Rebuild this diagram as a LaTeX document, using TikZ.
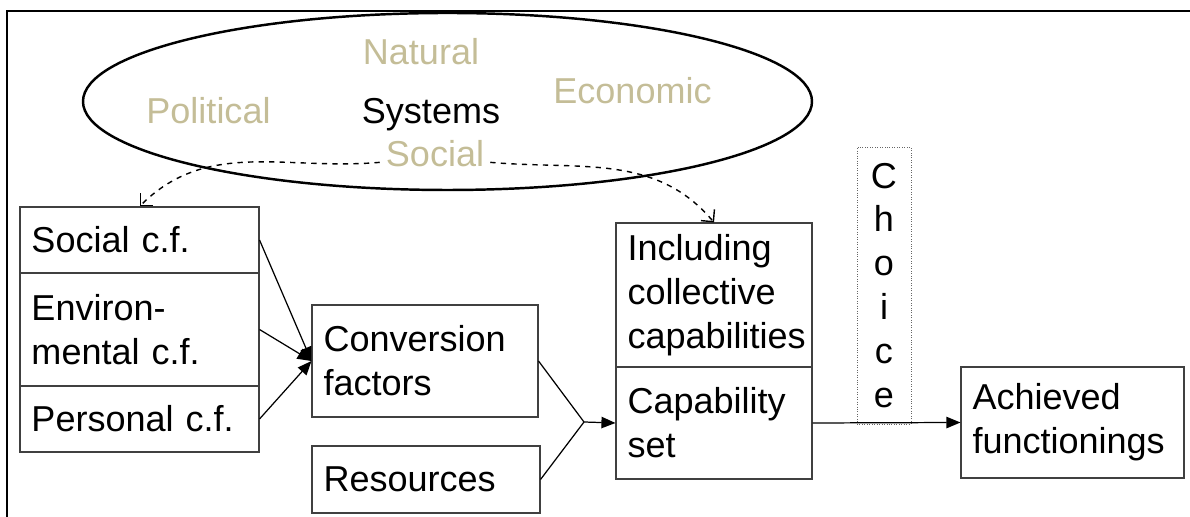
\documentclass[tikz,border=0pt]{standalone}
\usepackage{fontspec}
\setmainfont{Liberation Sans}
\usetikzlibrary{shapes.geometric, arrows.meta}
\definecolor{systemtan}{RGB}{196,189,151}

\begin{document}
\begin{tikzpicture}[factor/.style = {rectangle, draw=black!75, line width=0.6pt, align=left, inner xsep=0.23cm, inner ysep=0pt},
                    system/.style = {anchor=base, text=systemtan},
                    flow/.style = {-{Triangle[length=8pt, width=6.5pt]}, line width=0.7pt},
                    influence/.style = {-{Straight Barb[length=5pt, width=10pt]}, dashed, thick},
                    font=\fontsize{20.5}{25}\selectfont]
  \useasboundingbox (0, 0) rectangle (23.8, 10.34);

  % Frame.
  \draw [line width=1.2pt] (0.14, 0) -- (0.14, 10.12) -- (23.8, 10.12);

  % Systems.
  \node at (8.95, 8.31) [ellipse, draw, line width=1.4pt, minimum width=14.58cm, minimum height=3.54cm, name=SystemsOval] {};
  \node at (8.42, 9.04) [system, name=Natural] {Natural};
  \node at (4.17, 7.86) [system, name=Political] {Political};
  \node at (8.62, 7.86) [anchor=base, name=Systems] {Systems};
  \node at (12.65, 8.26) [system, name=Economic] {Economic};
  \node at (8.70, 7.00) [system, name=SocialSystem] {Social};

  % Conversion factors.
  \node at (2.79, 5.54) [factor, text width=4.32cm, minimum height=1.32cm, name=SocialCF] {Social c.f.};
  \node at (2.79, 3.75) [factor, text width=4.32cm, minimum height=2.26cm, name=EnvironmentalCF] {Environ-\\mental c.f.};
  \node at (2.79, 1.96) [factor, text width=4.32cm, minimum height=1.32cm, name=PersonalCF] {Personal c.f.};
  \node at (8.50, 3.12) [factor, text width=4.06cm, minimum height=2.24cm, name=Conversion] {Conversion\\factors};
  \node at (8.52, 0.75) [factor, text width=4.10cm, minimum height=1.34cm, name=Resources] {Resources};

  % Capabilities and functionings.
  \node at (14.28, 4.44) [factor, text width=3.46cm, minimum height=2.88cm, name=Including] {Including\\collective\\capabilities};
  \node at (14.28, 1.88) [factor, text width=3.46cm, minimum height=2.24cm, name=Capability] {Capability\\set};
  \node at (21.45, 1.89) [factor, text width=4.00cm, minimum height=2.22cm, name=Achieved] {Achieved\\functionings};
  \node at (17.68, 4.63) [rectangle, draw=black!60, densely dotted, align=center, inner sep=0pt, minimum width=1.08cm, minimum height=5.54cm, name=Choice] {C\\h\\o\\i\\c\\e};

  % Location where conversion factors meet resources.
  \coordinate (merge) at (11.68, 1.90);

  % Influence of the systems.
  \draw [influence] (SocialSystem.mid west)
             to [out=185, in=45]
             (SocialCF.north);
  \draw [influence] (SocialSystem.mid east)
             to [out=-5, in=130]
             (Including.north);

  % Conversion.
  \draw [flow] (SocialCF.east)
             to
             (Conversion.west);
  \draw [flow] (EnvironmentalCF.east)
             to
             (Conversion.west);
  \draw [flow] (PersonalCF.east)
             to
             (Conversion.west);
  \draw [line width=0.7pt] (Conversion.east)
             to
             (merge);
  \draw [line width=0.7pt] (Resources.east)
             to
             (merge);
  \draw [flow] (merge)
             to
             (Capability.west);
  \draw [flow] (Capability.east)
             to
             (Achieved.west);
\end{tikzpicture}
\end{document}
